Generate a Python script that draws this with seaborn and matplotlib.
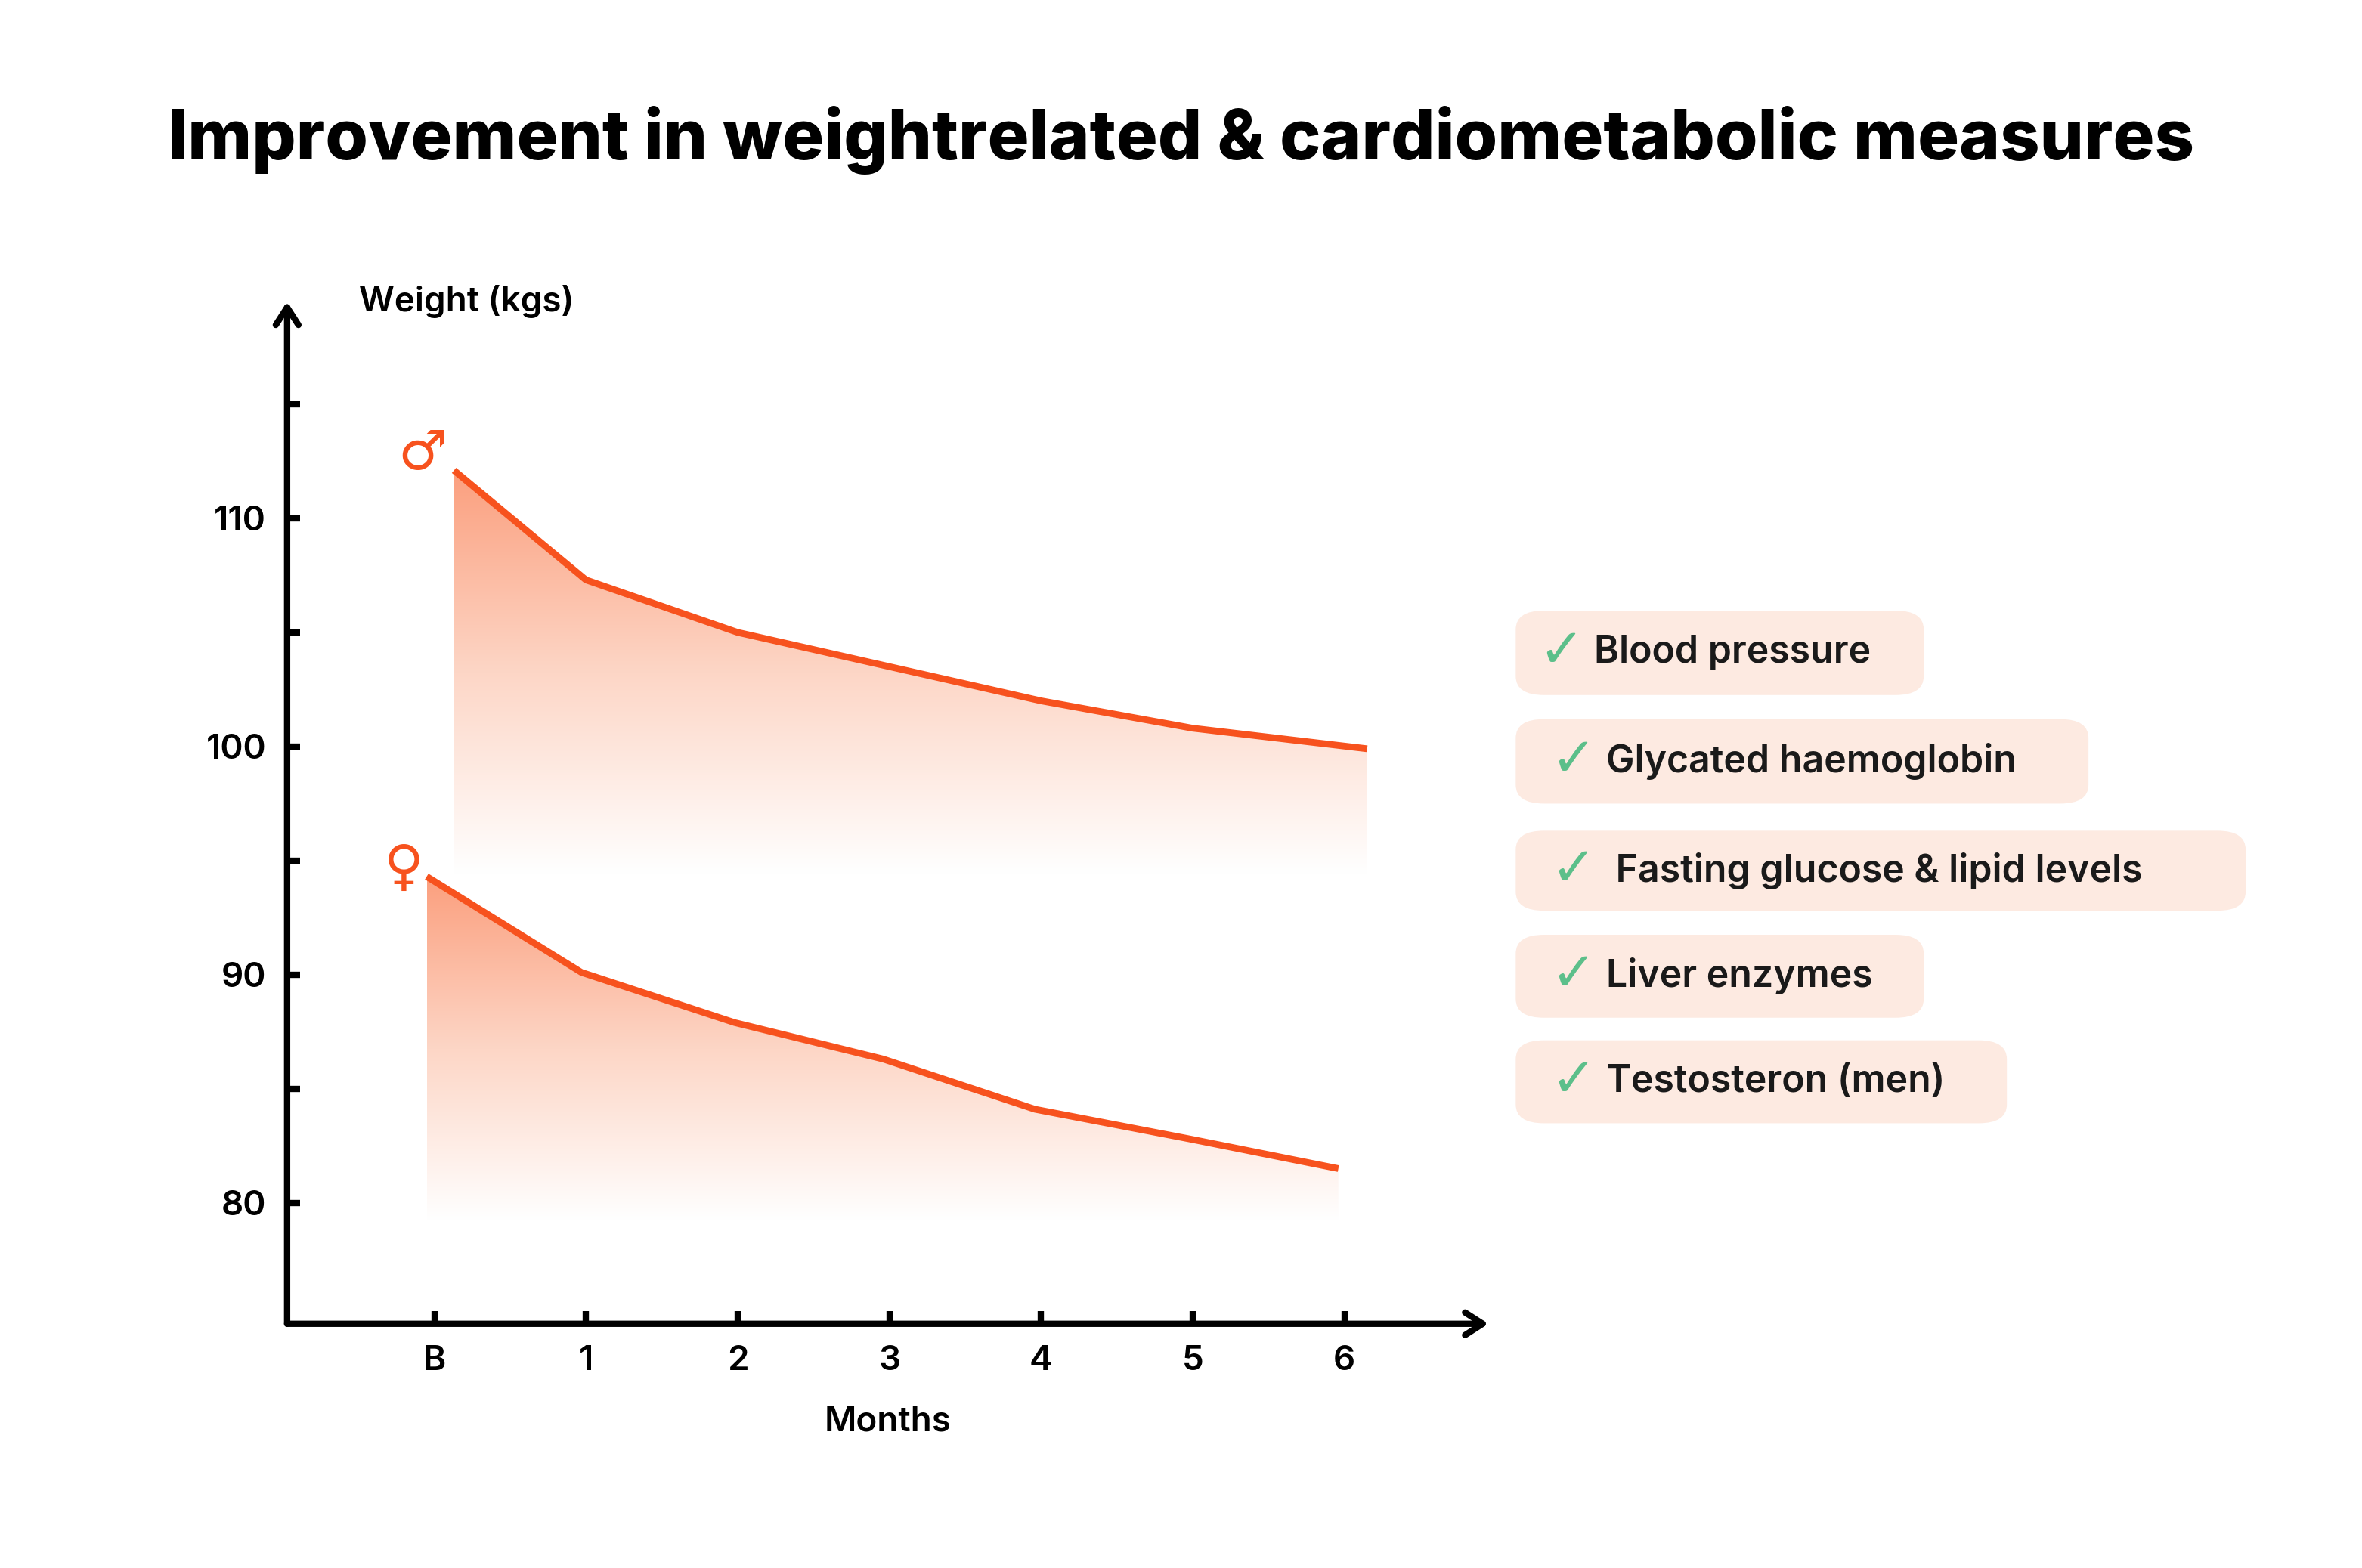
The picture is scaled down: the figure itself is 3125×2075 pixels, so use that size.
import matplotlib
matplotlib.use("Agg")
import matplotlib.pyplot as plt
import numpy as np
import seaborn as sns
from matplotlib.colors import LinearSegmentedColormap
from matplotlib.patches import FancyBboxPatch, Polygon

sns.set_theme(style="white")
plt.rcParams["font.family"] = ["Inter", "DejaVu Sans"]

# data
men_x = [0.13, 1, 2, 3, 4, 5, 6.15]
men_w = [112.1, 107.3, 105.0, 103.5, 102.0, 100.8, 99.9]
women_x = [-0.05, 0.97, 1.98, 2.96, 3.96, 4.98, 5.96]
women_w = [94.3, 90.1, 87.9, 86.3, 84.1, 82.8, 81.5]
month_ticks = [0, 1, 2, 3, 4, 5, 6]
month_labels = ["B", "1", "2", "3", "4", "5", "6"]
major_y = [80, 90, 100, 110]
minor_y = [85, 95, 105, 115]
measures = ["Blood pressure", "Glycated haemoglobin", " Fasting glucose & lipid levels",
            "Liver enzymes", "Testosteron (men)"]

ORANGE = "#F7521E"
W, H = 1563, 1040

fig = plt.figure(figsize=(15.625, 10.375), dpi=200)
ax = fig.add_axes([190 / W, 1 - 878 / H, (985 - 190) / W, (878 - 200) / H])
ax.set_xlim(-0.97, 6.95)
ax.set_ylim(74.7, 119.5)
for s in ax.spines.values():
    s.set_visible(False)

cmap = LinearSegmentedColormap.from_list("fade", ["#FFFFFF", "#FDD6C6", "#FB9F7E"])
grad = np.linspace(0, 1, 256).reshape(-1, 1)


def area(xs, ys, base):
    ax.plot(xs, ys, color=ORANGE, lw=3.2, zorder=4, solid_capstyle="butt")
    poly = Polygon(list(zip(xs, ys)) + [(xs[-1], base), (xs[0], base)],
                   closed=True, facecolor="none", edgecolor="none")
    ax.add_patch(poly)
    im = ax.imshow(grad, extent=(xs[0], xs[-1], base, max(ys)), origin="lower",
                   cmap=cmap, aspect="auto", zorder=2)
    im.set_clip_path(poly)


area(men_x, men_w, 94.4)
area(women_x, women_w, 79.2)

ax.text(-0.08, 112.8, "♂", color=ORANGE, fontsize=26, ha="center", va="center",
        family=["DejaVu Sans"])
ax.text(-0.2, 94.6, "♀", color=ORANGE, fontsize=26, ha="center", va="center",
        family=["DejaVu Sans"])

# axes with arrows
arrow = dict(arrowstyle="->,head_length=0.7,head_width=0.45", lw=3, color="black",
             shrinkA=0, shrinkB=0)
ax.annotate("", xy=(0, 1), xytext=(0, 0), xycoords="axes fraction", arrowprops=arrow)
ax.annotate("", xy=(1, 0), xytext=(0, 0), xycoords="axes fraction", arrowprops=arrow)

ax.set_xticks(month_ticks)
ax.set_xticklabels(month_labels)
ax.set_yticks(major_y)
ax.set_yticks(minor_y, minor=True)
ax.tick_params(axis="both", which="both", direction="in", length=6, width=3,
               color="black", labelsize=16.5, pad=10, left=True, bottom=True,
               labelcolor="black")
for lab in ax.get_xticklabels() + ax.get_yticklabels():
    lab.set_fontweight("semibold")
ax.set_xlabel("Months", fontsize=16.5, fontweight="semibold", labelpad=14, color="black")
ax.text(0.06, 1.0, "Weight (kgs)", transform=ax.transAxes, fontsize=16.5,
        fontweight="semibold", va="center", color="black")

fig.text(0.5, 1 - 93 / H, "Improvement in weightrelated & cardiometabolic measures",
         ha="center", va="center", fontsize=33, fontweight="heavy", color="black")

# checklist badges
badges = [(1003, 1273, 405, 461, 1055), (1003, 1382, 477, 533, 1063),
          (1003, 1486, 551, 604, 1063), (1003, 1273, 620, 675, 1063),
          (1003, 1328, 690, 745, 1063)]
for (x0, x1, y0, y1, tx), label in zip(badges, measures):
    fig.patches.append(FancyBboxPatch(
        (x0 / W, 1 - y1 / H), (x1 - x0) / W, (y1 - y0) / H,
        boxstyle="round,pad=0,rounding_size=0.012", transform=fig.transFigure,
        facecolor="#FDEAE1", edgecolor="none"))
    yc = 1 - (y0 + y1) / 2 / H
    fig.text((tx - 22) / W, yc, "✓", color="#5CBF8A", fontsize=26, ha="center",
             va="center", family=["DejaVu Sans"])
    fig.text(tx / W, yc, label, fontsize=18, fontweight="semibold", va="center",
             color="#1a1a1a")

fig.savefig("out.png", dpi=200, facecolor="white")
